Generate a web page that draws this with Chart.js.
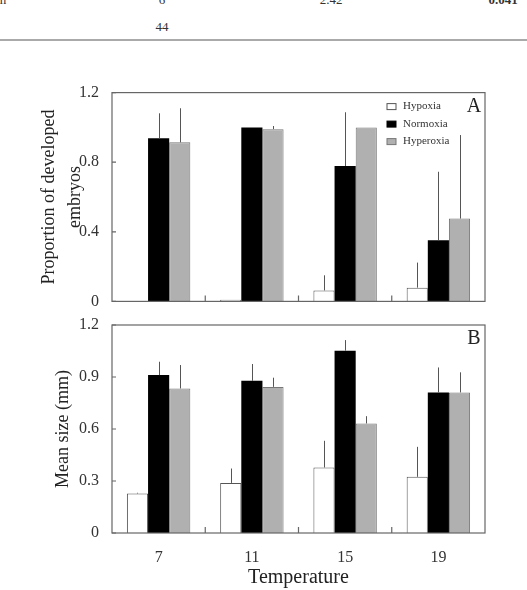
<!DOCTYPE html>
<html>
<head>
<meta charset="utf-8">
<script src="https://cdn.jsdelivr.net/npm/chart.js@4.4.1/dist/chart.umd.min.js"></script>
<style>
  body { margin: 0; background: #fff; width: 527px; height: 590px; overflow: hidden; position: relative; font-family: "Liberation Serif", serif; }
  .txt { position: absolute; font-size: 13px; color: #333; transform: translate(-50%, -50%); white-space: nowrap; }
  .rule { position: absolute; left: 0; top: 39px; width: 527px; height: 2px; background: #aaa; }
  #wrapA { position: absolute; left: 0; top: 78px; width: 527px; height: 238px; }
  #wrapB { position: absolute; left: 0; top: 310px; width: 527px; height: 280px; }
</style>
</head>
<body>
<div class="txt" style="left:3px;top:0px">n</div>
<div class="txt" style="left:162px;top:0px">6</div>
<div class="txt" style="left:331px;top:0px">2.42</div>
<div class="txt" style="left:503px;top:0px;font-weight:bold">0.041</div>
<div class="txt" style="left:162px;top:27px">44</div>
<div class="rule"></div>
<div id="wrapA"><canvas id="chartA"></canvas></div>
<div id="wrapB"><canvas id="chartB"></canvas></div>
<script>
const temps = ['7', '11', '15', '19'];
const seriesNames = ['Hypoxia', 'Normoxia', 'Hyperoxia'];

// panel A: proportion of developed embryos (mean, sd)
const propHypoxia = [0, 0.01, 0.063, 0.079];
const propHypoxiaSd = [0, 0, 0.087, 0.144];
const propNormoxia = [0.937, 1.0, 0.778, 0.351];
const propNormoxiaSd = [0.144, 0, 0.309, 0.394];
const propHyperoxia = [0.914, 0.99, 1.0, 0.476];
const propHyperoxiaSd = [0.196, 0.018, 0, 0.48];

// panel B: mean size in mm (mean, sd)
const sizeHypoxia = [0.228, 0.289, 0.378, 0.324];
const sizeHypoxiaSd = [0.004, 0.083, 0.154, 0.173];
const sizeNormoxia = [0.911, 0.878, 1.052, 0.811];
const sizeNormoxiaSd = [0.077, 0.097, 0.061, 0.144];
const sizeHyperoxia = [0.834, 0.843, 0.632, 0.811];
const sizeHyperoxiaSd = [0.135, 0.053, 0.042, 0.116];

const fills = ['#ffffff', '#000000', '#b0b0b0'];
const borders = ['#555555', '#000000', '#777777'];
const serif = '"Liberation Serif", "Times New Roman", serif';

// error lines (no caps) on top of each bar
const errorBars = {
  id: 'errorBars',
  afterDatasetsDraw(chart) {
    const ctx = chart.ctx, y = chart.scales.y;
    ctx.save();
    ctx.strokeStyle = '#555';
    ctx.lineWidth = 1;
    chart.data.datasets.forEach((ds, i) => {
      chart.getDatasetMeta(i).data.forEach((bar, j) => {
        const sd = ds.errors[j];
        if (!sd) return;
        const top = y.getPixelForValue(ds.data[j] + sd);
        ctx.beginPath();
        ctx.moveTo(Math.round(bar.x) + 0.5, bar.y);
        ctx.lineTo(Math.round(bar.x) + 0.5, top);
        ctx.stroke();
      });
    });
    ctx.restore();
  }
};

// box frame, inward ticks, legend and panel letter
const frame = {
  id: 'frame',
  afterDraw(chart, args, opts) {
    const ctx = chart.ctx, a = chart.chartArea;
    const x = chart.scales.x, y = chart.scales.y;
    ctx.save();
    ctx.strokeStyle = '#666';
    ctx.lineWidth = 1.2;
    ctx.strokeRect(a.left, a.top, a.right - a.left, a.bottom - a.top);
    ctx.beginPath();
    y.ticks.forEach(t => {
      const py = y.getPixelForValue(t.value);
      ctx.moveTo(a.left, py);
      ctx.lineTo(a.left + 4, py);
    });
    for (let i = 0; i < temps.length - 1; i++) {
      const px = (x.getPixelForValue(i) + x.getPixelForValue(i + 1)) / 2;
      ctx.moveTo(px, a.bottom);
      ctx.lineTo(px, a.bottom - 6);
    }
    ctx.stroke();

    ctx.fillStyle = '#222';
    ctx.font = '20px ' + serif;
    ctx.textAlign = 'center';
    ctx.textBaseline = 'middle';
    ctx.fillText(opts.letter, a.right - 11, a.top + 14);

    if (opts.legend) {
      ctx.font = '11px ' + serif;
      ctx.textAlign = 'left';
      chart.data.datasets.forEach((ds, i) => {
        const ly = a.top + 14 + i * 17.5;
        const lx = a.right - 98;
        ctx.fillStyle = ds.backgroundColor;
        ctx.fillRect(lx, ly - 3, 9, 6);
        ctx.strokeStyle = ds.borderColor;
        ctx.lineWidth = 1;
        ctx.strokeRect(lx, ly - 3, 9, 6);
        ctx.fillStyle = '#333';
        ctx.fillText(ds.label, lx + 16, ly);
      });
    }
    ctx.restore();
  }
};

function makePanel(id, values, errors, opts) {
  const datasets = seriesNames.map((name, i) => ({
    label: name,
    data: values[i],
    errors: errors[i],
    backgroundColor: fills[i],
    borderColor: borders[i],
    borderWidth: i === 1 ? 0 : 1,
    borderSkipped: 'bottom',
    categoryPercentage: 0.68,
    barPercentage: 1.0
  }));
  return new Chart(document.getElementById(id), {
    type: 'bar',
    data: { labels: temps, datasets },
    options: {
      responsive: true,
      maintainAspectRatio: false,
      animation: false,
      layout: { padding: opts.padding },
      plugins: {
        legend: { display: false },
        tooltip: { enabled: false },
        frame: { letter: opts.letter, legend: opts.legend }
      },
      scales: {
        x: {
          display: opts.showX,
          grid: { display: false },
          border: { display: false },
          ticks: { color: '#333', font: { family: serif, size: 16 }, padding: 7 },
          title: {
            display: opts.showX,
            text: 'Temperature',
            color: '#222',
            font: { family: serif, size: 20 },
            padding: { top: 5, bottom: 0 }
          },
          afterFit: s => { s.height = opts.showX ? 57 : 0; }
        },
        y: {
          min: 0,
          max: 1.2,
          grid: { display: false },
          border: { display: false },
          ticks: {
            stepSize: opts.step,
            color: '#333',
            padding: 5,
            font: { family: serif, size: 16 },
            callback: v => v === 0 ? '0' : v.toFixed(1)
          },
          title: {
            display: true,
            text: opts.yTitle,
            color: '#222',
            font: { family: serif, size: 18, lineHeight: 1.4 },
            padding: { top: opts.titlePad, bottom: 0 }
          },
          afterFit: s => { s.width = 112; }
        }
      }
    },
    plugins: [errorBars, frame]
  });
}

makePanel('chartA',
  [propHypoxia, propNormoxia, propHyperoxia],
  [propHypoxiaSd, propNormoxiaSd, propHyperoxiaSd],
  { padding: { top: 0, bottom: 0, left: 0, right: 42 }, letter: 'A', legend: true, showX: false,
    step: 0.4, yTitle: ['Proportion of developed', 'embryos'], titlePad: 37 });

makePanel('chartB',
  [sizeHypoxia, sizeNormoxia, sizeHyperoxia],
  [sizeHypoxiaSd, sizeNormoxiaSd, sizeHyperoxiaSd],
  { padding: { top: 15, bottom: 0, left: 0, right: 42 }, letter: 'B', legend: false, showX: true,
    step: 0.3, yTitle: 'Mean size (mm)', titlePad: 51 });
</script>
</body>
</html>
